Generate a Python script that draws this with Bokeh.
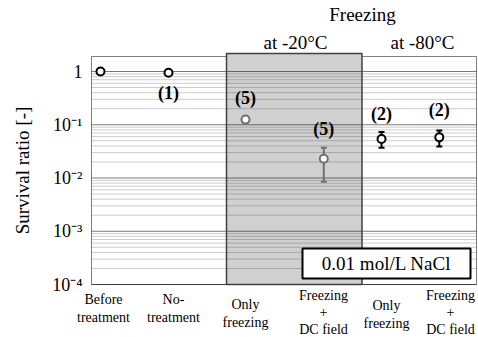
import math
from bokeh.plotting import figure
from bokeh.models import Range1d, ColumnDataSource
from bokeh.core.properties import value
from bokeh.embed import file_html
from bokeh.resources import INLINE

# ---- data ----
categories = ["Before\ntreatment", "No-\ntreatment", "Only\nfreezing",
              "Freezing\n+\nDC field", "Only\nfreezing", "Freezing\n+\nDC field"]
groups = ["none", "none", "-20", "-20", "-80", "-80"]
group_titles = ["at -20\u00b0C", "at -80\u00b0C"]
super_title = "Freezing"
cat_x = [0.14, 1.20, 2.40, 3.62, 4.52, 5.42]
survival = [1.0, 0.95, 0.125, 0.023, 0.054, 0.058]
err_low = [None, None, None, 0.0085, 0.037, 0.039]
err_high = [None, None, None, 0.037, 0.073, 0.078]
n_counts = ["", "(1)", "(5)", "(5)", "(2)", "(2)"]
y_ticks = [1e-4, 1e-3, 1e-2, 1e-1, 1.0]
y_tick_labels = ["10\u207b\u2074", "10\u207b\u00b3", "10\u207b\u00b2", "10\u207b\u00b9", "1"]
y_title = "Survival ratio [-]"
note = "0.01 mol/L NaCl"

# ---- layout helpers (page pixel layout -> data coordinates) ----
W, H = 478, 337
FL, FR, FT, Y1, DEC = 91, 476, 56, 71, 53.25
def xpx(px):
    return (px - FL) / (FR - FL) * 6
def ypx(py):
    return 10 ** ((Y1 - py) / DEC)

SERIF = value("Liberation Serif")
y_min = y_ticks[0]
y_max = ypx(FT)

p = figure(width=W, height=H, x_range=Range1d(xpx(0), xpx(W)),
           y_range=Range1d(ypx(H), ypx(0)), y_axis_type="log",
           output_backend="svg", toolbar_location=None,
           min_border_left=0, min_border_right=0, min_border_top=0, min_border_bottom=0)
p.axis.visible = False
p.grid.visible = False
p.outline_line_color = None
p.background_fill_color = "white"
p.border_fill_color = "white"

# frame outline
p.quad(left=[0], right=[6], top=[y_max], bottom=[y_min],
       fill_color=None, line_color="#808080", line_width=1)

# gray region (freezing at -20 C)
g_left, g_right, g_top = xpx(226), xpx(361.5), ypx(53)
p.quad(left=[g_left], right=[g_right], top=[g_top], bottom=[y_min],
       fill_color="#d0d0d0", line_color=None)

# grid lines
minor = [m * tk for tk in y_ticks[:-1] for m in range(2, 10)]
p.segment(x0=[0] * len(minor), x1=[6] * len(minor), y0=minor, y1=minor,
          line_color="black", line_alpha=0.2, line_width=1)
p.segment(x0=[0] * len(y_ticks), x1=[6] * len(y_ticks), y0=y_ticks, y1=y_ticks,
          line_color="black", line_alpha=0.52, line_width=1)

# gray region border
p.quad(left=[g_left], right=[g_right], top=[g_top], bottom=[y_min],
       fill_color=None, line_color="#404040", line_width=1.5)

# y tick labels and title
p.text(x=[xpx(82)] * len(y_ticks), y=y_ticks, text=y_tick_labels, text_font=SERIF,
       text_font_size="18px", text_align="right", text_baseline="middle", text_color="black")
p.text(x=[xpx(22)], y=[ypx(170)], text=[y_title], angle=math.pi / 2, text_font=SERIF,
       text_font_size="19px", text_align="center", text_baseline="middle", text_color="black")

colors = ["#707070" if g == "-20" else "black" for g in groups]

# error bars
eb = [i for i in range(len(categories)) if err_low[i] is not None]
src_e = ColumnDataSource(dict(x=[cat_x[i] for i in eb], lo=[err_low[i] for i in eb],
                              hi=[err_high[i] for i in eb], c=[colors[i] for i in eb]))
p.segment(x0="x", y0="lo", x1="x", y1="hi", source=src_e, line_color="c", line_width=2)
p.scatter(x="x", y="lo", source=src_e, marker="dash", size=6, line_color="c", line_width=2)
p.scatter(x="x", y="hi", source=src_e, marker="dash", size=6, line_color="c", line_width=2)

# points
src = ColumnDataSource(dict(x=cat_x, y=survival, c=colors))
p.scatter(x="x", y="y", source=src, marker="circle", size=8, line_color="c",
          fill_color="white", line_width=2)

# n counts
n_y_px = [None, 92, 97, 128, 113, 109]
idx = [i for i in range(len(n_counts)) if n_counts[i]]
p.text(x=[cat_x[i] for i in idx], y=[ypx(n_y_px[i]) for i in idx],
       text=[n_counts[i] for i in idx], text_font=SERIF, text_font_size="18px",
       text_font_style="bold", text_align="center", text_baseline="middle", text_color="black")

# note box
p.quad(left=[xpx(302)], right=[xpx(470)], top=[ypx(248)], bottom=[ypx(278)],
       fill_color="white", line_color="black", line_width=2)
p.text(x=[xpx(386)], y=[ypx(263)], text=[note], text_font=SERIF, text_font_size="19px",
       text_align="center", text_baseline="middle", text_color="black")

# headers
p.text(x=[xpx(362)], y=[ypx(14)], text=[super_title], text_font=SERIF,
       text_font_size="19px", text_align="center", text_baseline="middle", text_color="black")
p.text(x=[xpx(295), xpx(422)], y=[ypx(42), ypx(42)], text=group_titles, text_font=SERIF,
       text_font_size="19px", text_align="center", text_baseline="middle", text_color="black")

# category labels
lab_cx = [103, 173, 245, 323, 386, 450]
lab_cy = [308, 308, 313, 312, 314, 312]
p.text(x=[xpx(c) for c in lab_cx], y=[ypx(c) for c in lab_cy], text=categories,
       text_font=SERIF, text_font_size="14px", text_align="center",
       text_baseline="middle", text_line_height=1.16, text_color="black")

open("out.html", "w").write(file_html(p, INLINE))
